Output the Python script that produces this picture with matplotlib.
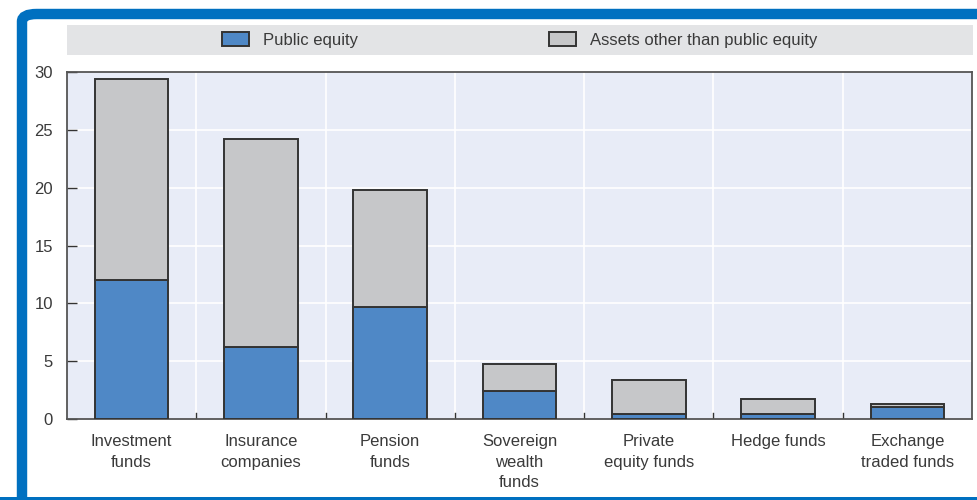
import numpy as np
import matplotlib.pyplot as plt
from matplotlib.patches import FancyBboxPatch, Rectangle

plt.rcParams['font.family'] = ['Liberation Sans', 'DejaVu Sans']

categories = ["Investment\nfunds", "Insurance\ncompanies", "Pension\nfunds",
              "Sovereign\nwealth\nfunds", "Private\nequity funds", "Hedge funds",
              "Exchange\ntraded funds"]
publicEquity = [12.0, 6.2, 9.7, 2.4, 0.45, 0.45, 1.05]
otherAssets = [17.4, 18.0, 10.1, 2.35, 2.95, 1.3, 0.25]
yTicks = [0, 5, 10, 15, 20, 25, 30]

blue = "#4F88C6"
grey = "#C6C7C9"
edge = "#333333"
text = "#3a3a3a"

W, H = 978, 500
fig = plt.figure(figsize=(W / 100, H / 100), dpi=100)

# blue frame
fig.patches.append(FancyBboxPatch((22 / W, -0.05), 1.2, (H - 14) / H + 0.05,
                                  boxstyle="round,pad=0,rounding_size=0.015",
                                  transform=fig.transFigure, fill=False,
                                  edgecolor="#0070C0", linewidth=7.5, zorder=0))
fig.patches.append(Rectangle((0, 0), 1, 3 / H, transform=fig.transFigure,
                             facecolor="#0070C0", edgecolor="none", zorder=0))

# legend band
fig.patches.append(Rectangle((67 / W, 1 - 55 / H), (973 - 67) / W, 30 / H,
                             transform=fig.transFigure, facecolor="#E3E4E6",
                             edgecolor="none", zorder=1))

ax = fig.add_axes([67 / W, 1 - 419 / H, (972 - 67) / W, (419 - 72) / H])
ax.set_facecolor("#E8ECF7")

x = np.arange(len(categories))
b1 = ax.bar(x, publicEquity, width=0.57, color=blue, edgecolor=edge,
            linewidth=1.4, label="Public equity", zorder=3)
b2 = ax.bar(x, otherAssets, width=0.57, bottom=publicEquity, color=grey,
            edgecolor=edge, linewidth=1.4, label="Assets other than public equity", zorder=3)

ax.set_xlim(-0.5, len(categories) - 0.5)
ax.set_ylim(0, 30)
ax.set_yticks(yTicks)
ax.set_xticks(x)
ax.set_xticklabels(categories, fontsize=12, color=text, linespacing=1.45)
ax.tick_params(axis="x", length=0, pad=11)
ax.tick_params(axis="y", direction="in", length=7, width=1, color=edge,
               labelsize=12, labelcolor=text, pad=10)

# grid: white horizontals and category separators
for yv in yTicks[1:-1]:
    ax.axhline(yv, color="white", linewidth=1.2, zorder=1)
for xv in x[:-1] + 0.5:
    ax.axvline(xv, color="white", linewidth=1.2, zorder=1)
    ax.plot([xv, xv], [0, 0.5], color=edge, linewidth=1, zorder=2)

for s in ax.spines.values():
    s.set_color("#555555")
    s.set_linewidth(1.3)

# legend: two entries placed separately
for handle, xpos in [(b1, 222), (b2, 549)]:
    fig.legend(handles=[handle], loc="center left",
               bbox_to_anchor=(xpos / W, 1 - 40 / H), frameon=False,
               fontsize=12, handlelength=1.65, handleheight=0.9,
               handletextpad=0.8, borderpad=0, borderaxespad=0,
               labelcolor=text)

fig.savefig("out.png", dpi=100, facecolor="white")
